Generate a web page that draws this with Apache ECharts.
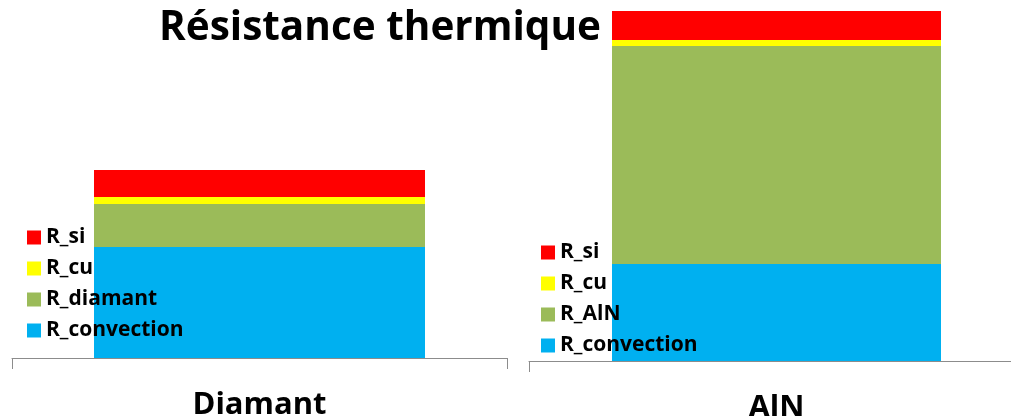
<!DOCTYPE html>
<html>
<head>
<meta charset="utf-8">
<script src="https://cdn.jsdelivr.net/npm/echarts@6/dist/echarts.min.js"></script>
<style>
  html, body { margin: 0; padding: 0; background: #ffffff; }
  #chart { width: 1011px; height: 416px; }
</style>
</head>
<body>
<div id="chart"></div>
<script>
// Thermal resistance breakdown, two stacked bars (one per substrate)
const titleText = 'Résistance thermique';
const panelCategories = [['Diamant'], ['AlN']];

// Layer names, bottom to top, per panel
const diamantLayers = ['R_convection', 'R_diamant', 'R_cu', 'R_si'];
const alnLayers = ['R_convection', 'R_AlN', 'R_cu', 'R_si'];

// Layer values (same unit for both panels)
const diamantValues = [1.11, 0.43, 0.07, 0.27];
const alnValues = [0.97, 2.18, 0.06, 0.29];

const layerColors = {
  R_convection: '#00B0F0',
  R_diamant: '#9BBB59',
  R_AlN: '#9BBB59',
  R_cu: '#FFFF00',
  R_si: '#FF0000'
};

const FONT = '"Open Sans", "DejaVu Sans", sans-serif';
const axisGray = '#8C8C8C';

function makeXAxis(gridIndex, cats) {
  return {
    type: 'category',
    gridIndex: gridIndex,
    data: cats,
    axisLine: { show: true, lineStyle: { color: axisGray, width: 1 } },
    axisTick: { show: true, length: 11, lineStyle: { color: axisGray } },
    axisLabel: {
      margin: 32,
      fontFamily: FONT,
      fontWeight: 'bold',
      fontSize: 31,
      color: '#000000'
    }
  };
}

function makeYAxis(gridIndex) {
  return {
    type: 'value',
    gridIndex: gridIndex,
    min: 0,
    max: 3.5,
    show: false,
    splitLine: { show: false }
  };
}

function makeSeries(names, values, gridIndex, stack, width) {
  return names.map((name, i) => ({
    name: name,
    type: 'bar',
    stack: stack,
    xAxisIndex: gridIndex,
    yAxisIndex: gridIndex,
    barWidth: width,
    itemStyle: { color: layerColors[name] },
    data: [values[i]]
  }));
}

function makeLegend(names, left, top) {
  return {
    orient: 'vertical',
    left: left,
    top: top,
    padding: 0,
    icon: 'rect',
    itemWidth: 14,
    itemHeight: 14,
    itemGap: 10,
    selectedMode: false,
    data: names.slice().reverse(),
    textStyle: {
      fontFamily: FONT,
      fontWeight: 'bold',
      fontSize: 21,
      lineHeight: 20,
      color: '#000000'
    }
  };
}

const option = {
  backgroundColor: '#ffffff',
  animation: false,
  title: {
    text: titleText,
    left: 154,
    top: 3,
    textStyle: {
      fontFamily: FONT,
      fontWeight: 'bold',
      fontSize: 40.5,
      color: '#000000'
    }
  },
  legend: [
    makeLegend(diamantLayers, 27, 227),
    makeLegend(alnLayers, 541, 242)
  ],
  grid: [
    { left: 12, top: 8, width: 495, height: 350, outerBoundsMode: 'none' },
    { left: 529, top: 11, width: 495, height: 350, outerBoundsMode: 'none' }
  ],
  xAxis: [makeXAxis(0, panelCategories[0]), makeXAxis(1, panelCategories[1])],
  yAxis: [makeYAxis(0), makeYAxis(1)],
  series: [
    ...makeSeries(diamantLayers, diamantValues, 0, 'diamant', 331),
    ...makeSeries(alnLayers, alnValues, 1, 'aln', 329)
  ]
};

const chart = echarts.init(document.getElementById('chart'), null, { renderer: 'canvas' });
chart.setOption(option);
</script>
</body>
</html>
